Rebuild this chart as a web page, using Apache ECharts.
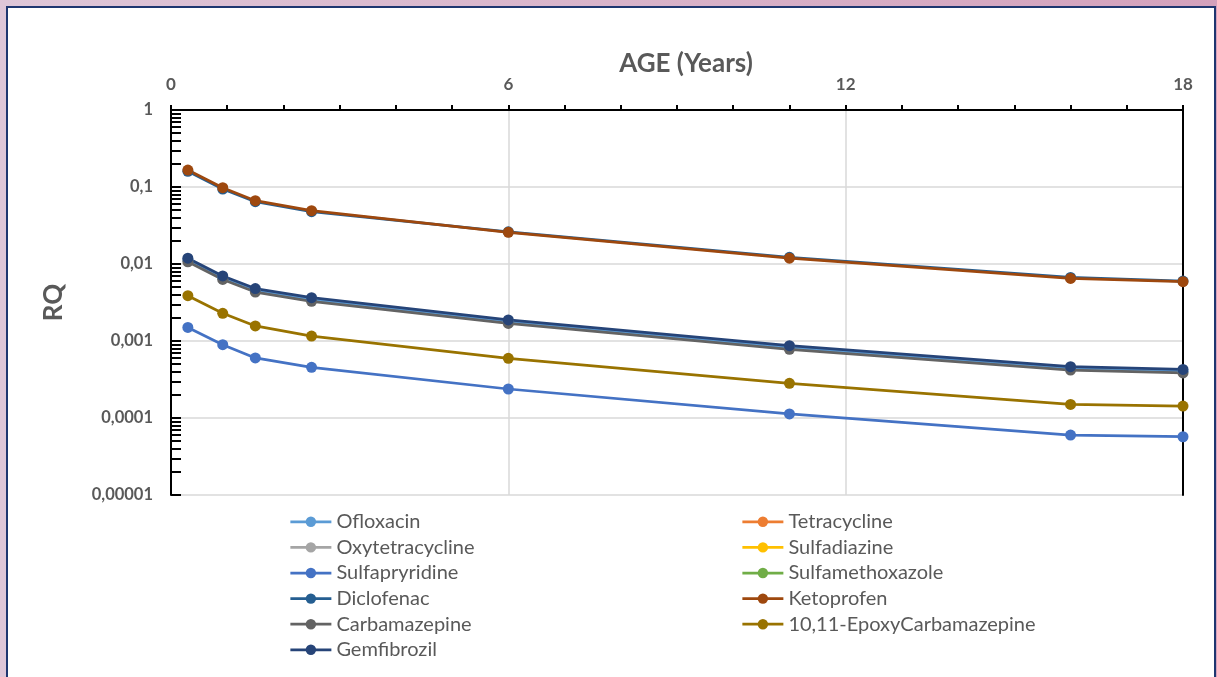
<!DOCTYPE html>
<html>
<head>
<meta charset="utf-8">
<script src="https://cdn.jsdelivr.net/npm/echarts@6/dist/echarts.min.js"></script>
<style>
  html, body { margin: 0; padding: 0; width: 1217px; height: 677px; overflow: hidden;
    background: linear-gradient(90deg, #dec6d8, #d4a1bc); }
  #panel { position: absolute; left: 6px; top: 6px; width: 1210px; height: 720px;
    box-sizing: border-box; border: 2px solid #1f3670; background: #fff; }
  #chart { position: absolute; left: 0; top: 0; width: 1217px; height: 677px; }
</style>
</head>
<body>
<div id="panel"></div>
<div id="chart"></div>
<script>
// Age (years) at which the risk quotient was evaluated
const ages = [0.3, 0.92, 1.5, 2.5, 6, 11, 16, 18];

// Risk quotient per compound
const ofloxacin        = [0.0113, 0.0066, 0.00455, 0.00345, 0.00177, 0.00082, 0.00044, 0.000405];
const tetracycline     = [];
const oxytetracycline  = [];
const sulfadiazine     = [];
const sulfapyridine    = [0.00150, 0.000895, 0.000602, 0.000455, 0.000238, 0.000113, 0.0000601, 0.0000571];
const sulfamethoxazole = [];
const diclofenac       = [0.160, 0.094, 0.0645, 0.0478, 0.0262, 0.0122, 0.0067, 0.0060];
const ketoprofen       = [0.166, 0.098, 0.0664, 0.0492, 0.0258, 0.0119, 0.0065, 0.0059];
const carbamazepine    = [0.0107, 0.0063, 0.00432, 0.00328, 0.00169, 0.00078, 0.00042, 0.000385];
const epoxyCbz         = [0.00388, 0.00229, 0.00157, 0.00116, 0.000596, 0.000282, 0.000150, 0.000143];
const gemfibrozil      = [0.0119, 0.0070, 0.0048, 0.00365, 0.00188, 0.00087, 0.000464, 0.000428];

// Axis ticks and labels
const xTickLabels = ['0', '6', '12', '18'];
const yTickValues = [0.00001, 0.0001, 0.001, 0.01, 0.1, 1];
const yTickLabels = ['0,00001', '0,0001', '0,001', '0,01', '0,1', '1'];
const yMinorSteps = [1, 2, 3, 4, 5, 6, 7, 8, 9];

const compounds = [
  { name: 'Ofloxacin',                values: ofloxacin,        color: '#5B9BD5' },
  { name: 'Tetracycline',             values: tetracycline,     color: '#ED7D31' },
  { name: 'Oxytetracycline',          values: oxytetracycline,  color: '#A5A5A5' },
  { name: 'Sulfadiazine',             values: sulfadiazine,     color: '#FFC000' },
  { name: 'Sulfapryridine',           values: sulfapyridine,    color: '#4472C4' },
  { name: 'Sulfamethoxazole',         values: sulfamethoxazole, color: '#70AD47' },
  { name: 'Diclofenac',               values: diclofenac,       color: '#255E91' },
  { name: 'Ketoprofen',               values: ketoprofen,       color: '#9E480E' },
  { name: 'Carbamazepine',            values: carbamazepine,    color: '#636363' },
  { name: '10,11-EpoxyCarbamazepine', values: epoxyCbz,         color: '#997300' },
  { name: 'Gemfibrozil',              values: gemfibrozil,      color: '#264478' }
];

// log10 positions of decade + minor ticks for the crossing tick axis
const tickLogPositions = [];
for (let d = -5; d < 0; d++) {
  yMinorSteps.forEach(s => tickLogPositions.push(d + Math.log10(s)));
}
tickLogPositions.push(0);

const textColor = '#595959';
const font = 'Lato';
const frameLine = { show: true, lineStyle: { color: '#000', width: 2 } };

const series = compounds.map(c => ({
  name: c.name,
  type: 'line',
  data: c.values.map((v, i) => [ages[i], v]),
  symbol: 'circle',
  symbolSize: 11,
  color: c.color,
  lineStyle: { width: 2.75, color: c.color },
  itemStyle: { color: c.color },
  emphasis: { disabled: true },
  animation: false
}));

const legendBase = {
  orient: 'vertical',
  top: 504,
  itemWidth: 41,
  itemHeight: 13,
  itemGap: 0,
  itemStyle: { borderWidth: 0 },
  lineStyle: { width: 2.75 },
  selectedMode: false,
  textStyle: { fontFamily: font, fontSize: 20, color: textColor, lineHeight: 25.6 }
};
const names = compounds.map(c => c.name);

const chart = echarts.init(document.getElementById('chart'), null, { renderer: 'canvas' });
chart.setOption({
  animation: false,
  backgroundColor: 'transparent',
  grid: { left: 171, top: 110, right: 34, bottom: 182, show: false },
  xAxis: [
    {
      type: 'value', position: 'top', min: 0, max: 18, interval: 6,
      name: 'AGE (Years)', nameLocation: 'middle', nameGap: 33, nameMoveOverlap: false,
      nameTextStyle: { fontFamily: font, fontSize: 26, fontWeight: 'bold', color: textColor, padding: [0, 0, 0, 18] },
      axisLine: frameLine,
      axisTick: { show: true, inside: false, length: 5, lineStyle: { color: '#000', width: 2 } },
      minorTick: { show: true, splitNumber: 6, length: 5, lineStyle: { color: '#000', width: 2 } },
      splitLine: { show: true, lineStyle: { color: '#d9d9d9', width: 1.5 } },
      axisLabel: { margin: 17, fontFamily: font, fontSize: 17, fontWeight: 'bold', color: textColor,
                   formatter: v => xTickLabels[Math.round(v / 6)] }
    },
    {
      // bottom edge of the plot frame
      type: 'value', position: 'bottom', min: 0, max: 18,
      axisLine: frameLine, axisTick: { show: false }, axisLabel: { show: false }, splitLine: { show: false }
    }
  ],
  yAxis: [
    {
      type: 'log', logBase: 10, min: 0.00001, max: 1, position: 'left',
      name: 'RQ', nameLocation: 'middle', nameGap: 104, nameMoveOverlap: false,
      nameTextStyle: { fontFamily: font, fontSize: 26, fontWeight: 'bold', color: textColor },
      axisLine: frameLine,
      axisTick: { show: false },
      splitLine: { show: true, lineStyle: { color: '#d9d9d9', width: 1.5 } },
      axisLabel: { margin: 18, fontFamily: font, fontSize: 16.5, fontWeight: 'bold', color: textColor,
        formatter: v => {
          const k = yTickValues.findIndex(t => Math.abs(Math.log10(t) - Math.log10(v)) < 1e-6);
          return k >= 0 ? yTickLabels[k] : '';
        } }
    },
    {
      // crossing tick marks, decade and minor steps
      type: 'value', min: -5, max: 0, position: 'left', offset: 5,
      axisLine: { show: false },
      axisTick: { show: true, inside: true, length: 10, customValues: tickLogPositions,
                  lineStyle: { color: '#000', width: 2 } },
      axisLabel: { show: false },
      splitLine: { show: false }
    },
    {
      // right edge of the plot frame
      type: 'value', min: -5, max: 0, position: 'right',
      axisLine: frameLine, axisTick: { show: false }, axisLabel: { show: false }, splitLine: { show: false }
    }
  ],
  legend: [
    Object.assign({}, legendBase, { left: 284, data: names.filter((n, i) => i % 2 === 0) }),
    Object.assign({}, legendBase, { left: 736, data: names.filter((n, i) => i % 2 === 1) })
  ],
  series: series
});
</script>
</body>
</html>
